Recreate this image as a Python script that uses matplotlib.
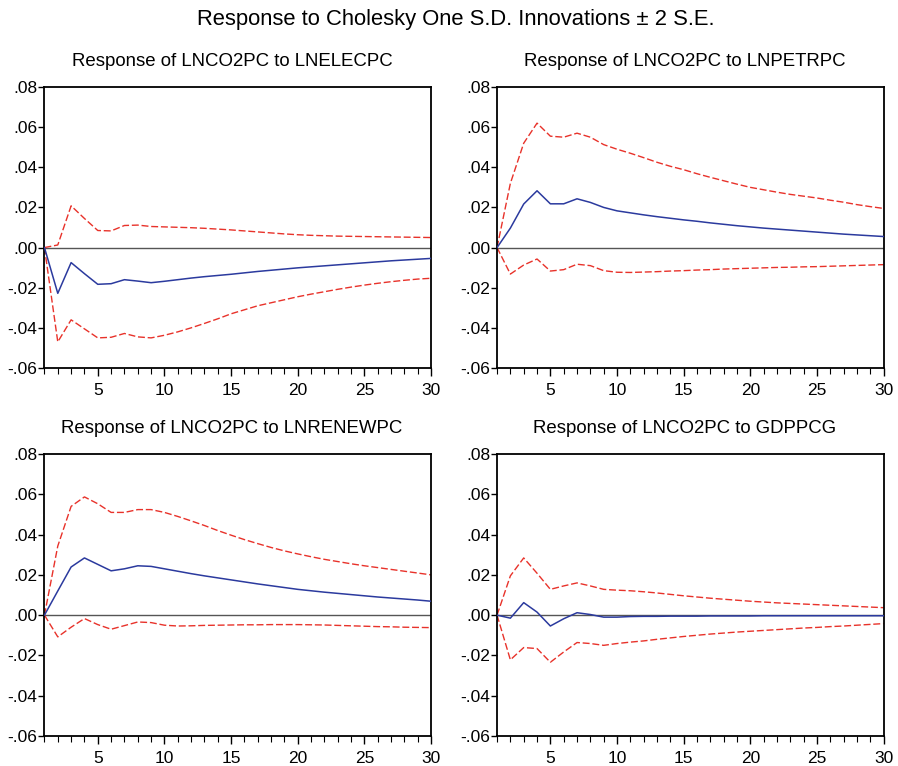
import matplotlib
matplotlib.use("Agg")
import matplotlib.pyplot as plt
from matplotlib.ticker import MultipleLocator, FuncFormatter

plt.rcParams['font.family'] = ['Liberation Sans', 'DejaVu Sans']

periods = list(range(1, 31))

titles = ["Response of LNCO2PC to LNELECPC", "Response of LNCO2PC to LNPETRPC",
          "Response of LNCO2PC to LNRENEWPC", "Response of LNCO2PC to GDPPCG"]

elec_resp = [0, -0.0228, -0.0075, -0.0130, -0.0183, -0.0180, -0.0160, -0.0167, -0.0175, -0.0168,
             -0.0160, -0.0152, -0.0145, -0.0139, -0.0133, -0.0126, -0.0119, -0.0113, -0.0107, -0.0101,
             -0.0096, -0.0091, -0.0086, -0.0081, -0.0076, -0.0071, -0.0066, -0.0062, -0.0058, -0.0054]
elec_up = [0, 0.0013, 0.0208, 0.0145, 0.0085, 0.0083, 0.0110, 0.0112, 0.0105, 0.0103,
           0.0101, 0.0099, 0.0096, 0.0092, 0.0088, 0.0083, 0.0078, 0.0073, 0.0068, 0.0064,
           0.0061, 0.0059, 0.0057, 0.0056, 0.0055, 0.0054, 0.0053, 0.0052, 0.0051, 0.0050]
elec_lo = [0, -0.0470, -0.0360, -0.0405, -0.0450, -0.0447, -0.0428, -0.0445, -0.0450, -0.0437,
           -0.0420, -0.0400, -0.0378, -0.0355, -0.0330, -0.0310, -0.0290, -0.0275, -0.0260, -0.0245,
           -0.0232, -0.0220, -0.0208, -0.0197, -0.0187, -0.0178, -0.0170, -0.0163, -0.0157, -0.0153]

petr_resp = [0, 0.0097, 0.0217, 0.0283, 0.0218, 0.0218, 0.0243, 0.0225, 0.0200, 0.0183,
             0.0173, 0.0163, 0.0154, 0.0146, 0.0138, 0.0131, 0.0123, 0.0116, 0.0109, 0.0103,
             0.0097, 0.0092, 0.0087, 0.0082, 0.0077, 0.0072, 0.0067, 0.0063, 0.0059, 0.0055]
petr_up = [0, 0.0320, 0.0520, 0.0620, 0.0555, 0.0550, 0.0570, 0.0550, 0.0513, 0.0490,
           0.0470, 0.0448, 0.0425, 0.0405, 0.0388, 0.0368, 0.0350, 0.0333, 0.0316, 0.0300,
           0.0288, 0.0276, 0.0265, 0.0256, 0.0247, 0.0236, 0.0226, 0.0214, 0.0204, 0.0195]
petr_lo = [0, -0.0132, -0.0087, -0.0057, -0.0117, -0.0110, -0.0083, -0.0090, -0.0115, -0.0123,
           -0.0124, -0.0122, -0.0120, -0.0117, -0.0115, -0.0112, -0.0110, -0.0107, -0.0105, -0.0103,
           -0.0101, -0.0099, -0.0098, -0.0096, -0.0095, -0.0093, -0.0091, -0.0089, -0.0087, -0.0085]

renew_resp = [0, 0.0120, 0.0239, 0.0284, 0.0252, 0.0220, 0.0230, 0.0245, 0.0242, 0.0230,
              0.0218, 0.0206, 0.0195, 0.0185, 0.0175, 0.0165, 0.0155, 0.0146, 0.0137, 0.0128,
              0.0121, 0.0114, 0.0108, 0.0102, 0.0096, 0.0090, 0.0085, 0.0080, 0.0075, 0.0069]
renew_up = [0, 0.0343, 0.0540, 0.0587, 0.0553, 0.0510, 0.0510, 0.0524, 0.0524, 0.0510,
            0.0490, 0.0468, 0.0445, 0.0420, 0.0397, 0.0375, 0.0355, 0.0336, 0.0319, 0.0304,
            0.0290, 0.0277, 0.0266, 0.0255, 0.0245, 0.0236, 0.0227, 0.0218, 0.0209, 0.0200]
renew_lo = [0, -0.0108, -0.0060, -0.0017, -0.0047, -0.0070, -0.0052, -0.0034, -0.0037, -0.0050,
            -0.0054, -0.0053, -0.0051, -0.0050, -0.0049, -0.0048, -0.0048, -0.0047, -0.0047, -0.0047,
            -0.0048, -0.0049, -0.0051, -0.0053, -0.0055, -0.0057, -0.0058, -0.0060, -0.0061, -0.0062]

gdp_resp = [0, -0.0015, 0.0062, 0.0015, -0.0054, -0.0018, 0.0012, 0.0003, -0.0010, -0.0010,
            -0.0007, -0.0006, -0.0006, -0.0005, -0.0005, -0.0005, -0.0004, -0.0004, -0.0004, -0.0004,
            -0.0003, -0.0003, -0.0003, -0.0003, -0.0003, -0.0003, -0.0003, -0.0003, -0.0003, -0.0003]
gdp_up = [0, 0.0195, 0.0284, 0.0208, 0.0128, 0.0145, 0.0160, 0.0145, 0.0128, 0.0124,
          0.0121, 0.0116, 0.0110, 0.0103, 0.0096, 0.0090, 0.0084, 0.0079, 0.0074, 0.0069,
          0.0065, 0.0061, 0.0058, 0.0055, 0.0052, 0.0049, 0.0046, 0.0043, 0.0040, 0.0037]
gdp_lo = [0, -0.0222, -0.0161, -0.0166, -0.0234, -0.0183, -0.0136, -0.0141, -0.0150, -0.0141,
          -0.0134, -0.0128, -0.0120, -0.0113, -0.0106, -0.0100, -0.0094, -0.0089, -0.0084, -0.0080,
          -0.0076, -0.0072, -0.0068, -0.0064, -0.0061, -0.0057, -0.0054, -0.0050, -0.0046, -0.0042]

panels = [(elec_resp, elec_up, elec_lo), (petr_resp, petr_up, petr_lo),
          (renew_resp, renew_up, renew_lo), (gdp_resp, gdp_up, gdp_lo)]

# axes boxes in figure fractions (left, bottom, width, height)
boxes = [(0.0495, 0.5196, 0.4305, 0.3668), (0.5535, 0.5196, 0.4305, 0.3668),
         (0.0495, 0.0392, 0.4305, 0.3681), (0.5535, 0.0392, 0.4305, 0.3681)]


def fmt(v, pos):
    s = "%.2f" % v
    if s.startswith("-0"):
        return "-" + s[2:]
    if s.startswith("0"):
        return s[1:]
    return s


fig = plt.figure(figsize=(8.98, 7.66), dpi=100)
fig.text(0.508, 0.974, "Response to Cholesky One S.D. Innovations \u00b1 2 S.E.",
         ha="center", va="center", fontsize=15.8)

for (resp, up, lo), title, box in zip(panels, titles, boxes):
    ax = fig.add_axes(box)
    ax.axhline(0, color="#555555", lw=1.0, zorder=1)
    ax.plot(periods, up, color="#e8322a", lw=1.0, dashes=(5, 2), zorder=2)
    ax.plot(periods, lo, color="#e8322a", lw=1.0, dashes=(5, 2), zorder=2)
    ax.plot(periods, resp, color="#2b3a9e", lw=1.1, zorder=3)
    ax.set_xlim(1, 30)
    ax.set_ylim(-0.06, 0.08)
    ax.xaxis.set_major_locator(MultipleLocator(5))
    ax.xaxis.set_minor_locator(MultipleLocator(1))
    ax.yaxis.set_major_locator(MultipleLocator(0.02))
    ax.yaxis.set_major_formatter(FuncFormatter(fmt))
    ax.tick_params(axis="x", which="major", direction="out", length=6, width=1.0,
                   labelsize=12.5, pad=4.5)
    ax.tick_params(axis="x", which="minor", direction="out", length=4, width=0.8)
    ax.tick_params(axis="y", which="major", direction="out", length=4, width=1.0,
                   labelsize=12.5, pad=1)
    for sp in ax.spines.values():
        sp.set_linewidth(1.3)
    ax.set_title(title, fontsize=13.4, pad=15, x=0.485)

fig.savefig("out.png", dpi=100)
